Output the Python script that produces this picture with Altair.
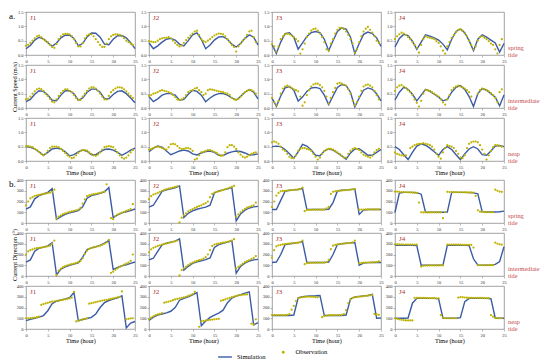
import altair as alt
import pandas as pd

# ---------------- data ----------------
STATIONS = ["J1", "J2", "J3", "J4"]
TIDES = ["spring", "intermediate", "neap"]
X_TICKS = [0, 5, 10, 15, 20, 25]
SPEED_TICKS = [0.0, 0.5, 1.0, 1.5]
DIR_TICKS = [0, 100, 200, 300, 400]
LEGEND_NAMES = ["Simulation", "Observation"]

# Current speed (m/s); simulation hourly t=0..25, observation every 0.5 h from t=0
speed_sim_spring_J1 = [0.22,0.33,0.52,0.62,0.56,0.43,0.30,0.42,0.60,0.69,0.69,0.58,0.33,0.40,0.63,0.77,0.76,0.62,0.38,0.36,0.55,0.67,0.68,0.60,0.43,0.22]
speed_obs_spring_J1 = [0.32,0.35,0.42,0.50,0.58,0.65,0.68,0.62,0.55,0.50,0.45,0.35,0.28,0.25,0.38,0.55,0.65,0.72,0.74,0.74,0.72,0.66,0.55,0.42,0.30,0.30,0.42,0.58,0.68,0.72,0.72,0.65,0.55,0.45,0.35,0.28,0.28,0.40,0.55,0.65,0.70,0.72,0.72,0.70,0.65,0.58,0.50,0.45,0.40,0.35]
speed_sim_spring_J2 = [0.42,0.22,0.32,0.45,0.55,0.58,0.52,0.38,0.32,0.50,0.70,0.77,0.55,0.22,0.35,0.52,0.63,0.64,0.55,0.38,0.28,0.40,0.58,0.70,0.62,0.35]
speed_obs_spring_J2 = [0.48,0.47,0.45,0.45,0.50,0.55,0.58,0.60,0.60,0.62,0.58,0.50,0.42,0.35,0.30,0.33,0.42,0.52,0.60,0.68,0.75,0.82,0.85,0.70,0.55,0.48,0.45,0.50,0.55,0.62,0.68,0.72,0.75,0.74,0.72,0.65,0.55,0.45,0.35,0.28,0.12,0.30,0.40,0.50,0.58,0.70,0.82,0.85,0.62,0.45]
speed_sim_spring_J3 = [0.37,0.05,0.45,0.75,0.78,0.62,0.20,0.42,0.65,0.78,0.82,0.78,0.55,0.15,0.50,0.82,0.95,0.90,0.62,0.05,0.40,0.72,0.80,0.75,0.60,0.30]
speed_obs_spring_J3 = [0.38,0.30,0.12,0.30,0.55,0.65,0.72,0.74,0.72,0.68,0.62,0.55,0.48,0.05,0.20,0.40,0.62,0.75,0.85,0.90,0.92,0.85,0.75,0.62,0.45,0.20,0.15,0.40,0.55,0.75,0.88,0.95,0.95,0.90,0.82,0.70,0.55,0.40,0.08,0.20,0.45,0.65,0.82,0.92,0.98,0.88,0.78,0.65,0.50,0.42]
speed_sim_spring_J4 = [0.28,0.58,0.72,0.68,0.48,0.20,0.45,0.70,0.66,0.60,0.52,0.38,0.18,0.55,0.82,0.90,0.78,0.50,0.15,0.55,0.70,0.62,0.52,0.42,0.10,0.40]
speed_obs_spring_J4 = [0.55,0.65,0.72,0.78,0.75,0.70,0.62,0.55,0.45,0.35,0.25,0.08,0.35,0.55,0.65,0.62,0.60,0.58,0.55,0.48,0.42,0.30,0.15,0.05,0.30,0.45,0.60,0.70,0.80,0.88,0.90,0.85,0.75,0.65,0.50,0.35,0.20,0.30,0.50,0.62,0.65,0.60,0.55,0.48,0.40,0.35,0.20,0.05,0.35,0.55]

speed_sim_inter_J1 = [0.22,0.30,0.48,0.60,0.58,0.45,0.27,0.25,0.45,0.60,0.60,0.50,0.27,0.35,0.55,0.66,0.66,0.55,0.33,0.32,0.47,0.58,0.60,0.50,0.35,0.18]
speed_obs_inter_J1 = [0.30,0.32,0.40,0.50,0.58,0.65,0.68,0.66,0.60,0.50,0.42,0.32,0.22,0.20,0.30,0.42,0.52,0.60,0.65,0.65,0.60,0.55,0.45,0.35,0.28,0.28,0.40,0.50,0.60,0.68,0.72,0.72,0.68,0.60,0.50,0.40,0.30,0.30,0.42,0.55,0.62,0.68,0.72,0.72,0.70,0.65,0.58,0.50,0.42,0.35]
speed_sim_inter_J2 = [0.40,0.22,0.32,0.45,0.50,0.50,0.45,0.27,0.30,0.48,0.62,0.58,0.45,0.22,0.35,0.45,0.50,0.50,0.45,0.35,0.28,0.40,0.55,0.64,0.55,0.32]
speed_obs_inter_J2 = [0.42,0.45,0.50,0.52,0.55,0.60,0.62,0.60,0.58,0.55,0.52,0.45,0.38,0.30,0.28,0.30,0.35,0.45,0.55,0.60,0.62,0.68,0.70,0.62,0.55,0.45,0.50,0.62,0.65,0.64,0.62,0.60,0.58,0.56,0.55,0.52,0.50,0.45,0.35,0.30,0.28,0.32,0.40,0.48,0.55,0.60,0.62,0.62,0.58,0.50]
speed_sim_inter_J3 = [0.35,0.06,0.42,0.70,0.75,0.62,0.24,0.38,0.58,0.70,0.72,0.68,0.45,0.12,0.42,0.72,0.82,0.78,0.55,0.04,0.35,0.62,0.70,0.65,0.50,0.25]
speed_obs_inter_J3 = [0.35,0.20,0.10,0.25,0.50,0.68,0.75,0.78,0.75,0.70,0.65,0.62,0.58,0.40,0.08,0.20,0.45,0.62,0.75,0.82,0.85,0.85,0.80,0.72,0.60,0.40,0.15,0.35,0.55,0.70,0.85,0.88,0.85,0.82,0.78,0.65,0.50,0.25,0.10,0.20,0.40,0.60,0.75,0.80,0.82,0.78,0.72,0.60,0.45,0.30]
speed_sim_inter_J4 = [0.28,0.55,0.72,0.65,0.48,0.25,0.45,0.65,0.58,0.48,0.38,0.25,0.30,0.55,0.72,0.78,0.65,0.40,0.05,0.50,0.68,0.62,0.50,0.38,0.08,0.45]
speed_obs_inter_J4 = [0.60,0.72,0.78,0.80,0.75,0.70,0.62,0.55,0.45,0.30,0.18,0.05,0.25,0.50,0.62,0.62,0.60,0.55,0.50,0.45,0.40,0.30,0.20,0.12,0.30,0.45,0.62,0.70,0.75,0.78,0.75,0.72,0.68,0.62,0.55,0.40,None,None,0.50,0.62,0.68,0.66,0.62,0.58,0.52,0.45,0.35,0.20,0.55,0.65]

speed_sim_neap_J1 = [0.50,0.48,0.42,0.32,0.20,0.30,0.42,0.45,0.42,0.32,0.18,0.22,0.32,0.38,0.34,0.22,0.22,0.32,0.40,0.42,0.38,0.30,0.20,0.28,0.38,0.45]
speed_obs_neap_J1 = [0.52,0.52,0.50,0.48,0.42,0.38,0.32,0.25,0.20,0.25,0.35,0.45,0.50,0.50,0.50,0.48,0.42,0.35,0.28,0.20,0.15,0.10,0.12,0.20,0.28,0.35,0.38,0.38,0.36,0.30,0.25,0.20,0.18,0.22,0.30,0.40,0.48,0.50,0.52,0.50,0.48,0.40,0.30,0.20,0.12,0.08,0.12,0.20,0.30,0.38]
speed_sim_neap_J2 = [0.32,0.45,0.52,0.48,0.35,0.22,0.28,0.35,0.38,0.35,0.25,0.21,0.28,0.33,0.35,0.30,0.20,0.19,0.27,0.32,0.35,0.33,0.28,0.21,0.22,0.25]
speed_obs_neap_J2 = [0.40,0.42,0.45,0.48,0.50,0.48,0.45,0.42,0.40,0.48,0.58,0.60,0.58,0.52,0.45,0.42,0.42,0.45,0.45,0.42,0.35,0.05,0.08,0.20,0.30,0.32,0.35,0.38,0.38,0.35,0.32,0.28,0.22,0.18,0.20,0.30,0.48,0.55,0.55,0.50,0.42,0.30,0.22,0.15,0.12,0.15,0.20,0.25,0.28,0.30]
speed_sim_neap_J3 = [0.50,0.52,0.50,0.40,0.25,0.10,0.32,0.58,0.52,0.38,0.20,0.18,0.35,0.42,0.38,0.28,0.18,0.06,0.28,0.42,0.43,0.32,0.20,0.20,0.30,0.40]
speed_obs_neap_J3 = [0.65,0.68,0.65,0.60,0.50,0.40,0.35,0.25,0.15,0.10,0.10,0.20,0.35,0.42,0.45,0.45,0.42,0.40,0.35,0.25,0.15,0.05,0.12,0.25,0.35,0.40,0.42,0.42,0.40,0.35,0.30,0.25,0.18,0.12,0.12,0.25,0.35,0.42,0.45,0.42,0.38,0.30,0.22,0.18,0.15,0.12,0.18,0.30,0.38,0.42]
speed_sim_neap_J4 = [0.50,0.40,0.22,0.05,0.30,0.52,0.60,0.55,0.45,0.32,0.20,0.40,0.50,0.40,0.22,0.05,0.25,0.42,0.50,0.42,0.22,0.20,0.35,0.52,0.54,0.50]
speed_obs_neap_J4 = [0.30,0.25,0.22,0.20,0.18,0.20,None,0.45,0.50,0.55,0.58,0.60,0.60,0.62,0.60,0.58,0.55,0.50,0.40,0.25,0.15,0.08,0.30,0.45,0.55,0.52,0.50,0.45,0.35,0.25,0.12,0.10,0.20,0.45,0.60,0.65,0.68,0.68,0.65,0.55,0.40,0.25,0.05,0.20,0.35,0.48,0.55,0.55,0.52,0.50]

# Current direction (deg)
dir_sim_spring_J1 = [130,150,225,255,270,285,320,35,60,80,95,105,115,150,230,255,265,275,290,330,50,75,95,105,115,130]
dir_obs_spring_J1 = [165,200,228,240,252,258,262,266,270,274,278,282,290,310,40,60,72,82,90,97,103,108,113,118,125,140,180,220,250,258,263,268,272,276,280,285,292,360,None,45,35,65,78,88,96,104,112,120,128,175]
dir_sim_spring_J2 = [148,165,230,295,308,318,328,345,50,90,112,128,138,148,165,280,298,308,318,330,20,85,120,140,150,155]
dir_obs_spring_J2 = [222,250,265,272,280,290,300,308,315,320,325,330,335,340,5,50,70,90,108,120,130,140,150,158,165,175,185,200,240,270,282,290,295,300,308,315,320,328,335,345,60,80,100,118,132,142,150,158,165,190]
dir_sim_spring_J3 = [125,125,210,295,305,308,312,322,125,125,125,125,125,128,190,298,305,308,310,316,80,120,125,125,125,125]
dir_obs_spring_J3 = [150,200,255,280,295,298,300,302,304,306,308,310,312,315,330,110,122,123,123,124,124,124,124,124,125,135,150,270,290,295,298,300,302,304,306,308,310,313,316,None,125,125,125,126,126,126,126,126,127,127]
dir_sim_spring_J4 = [100,278,285,285,285,282,268,100,100,100,100,100,102,285,285,285,285,283,280,272,105,102,102,103,105,110]
dir_obs_spring_J4 = [292,292,290,288,287,286,285,284,283,282,280,190,100,98,98,98,98,98,99,99,99,99,45,100,290,288,288,287,287,286,286,285,285,285,284,284,283,252,118,105,103,102,101,100,100,100,310,300,292,290]

dir_sim_inter_J1 = [130,150,230,258,268,280,310,10,65,85,100,110,122,175,245,262,272,285,305,330,60,80,95,105,118,130]
dir_obs_inter_J1 = [200,230,240,248,255,260,262,265,268,272,276,282,300,330,10,50,68,82,92,100,105,110,116,122,128,140,165,205,235,252,260,266,271,276,282,290,300,312,335,30,40,58,72,84,95,105,115,125,140,200]
dir_sim_inter_J2 = [150,165,230,290,305,315,325,345,55,90,118,132,142,152,168,265,292,305,315,328,25,90,120,140,150,155]
dir_obs_inter_J2 = [220,248,262,272,280,286,292,298,303,308,313,318,323,330,5,55,72,88,102,115,125,133,140,147,153,162,175,200,240,280,292,298,302,306,310,314,318,324,330,342,70,85,100,115,128,138,148,158,168,185]
dir_sim_inter_J3 = [125,130,200,292,300,305,310,320,125,125,125,125,125,130,200,293,300,305,308,312,100,120,124,125,125,125]
dir_obs_inter_J3 = [170,240,275,285,290,294,297,300,302,304,306,308,310,313,330,110,120,122,123,123,124,124,124,125,125,130,150,250,282,290,294,297,300,302,304,306,308,312,330,None,118,122,124,125,125,126,127,128,130,135]
dir_sim_inter_J4 = [285,285,285,285,285,283,100,100,100,100,100,100,285,285,285,285,285,283,160,102,100,100,100,108,135,272]
dir_obs_inter_J4 = [295,295,294,294,293,293,292,292,292,292,293,None,88,95,97,97,98,98,98,98,98,99,99,None,292,292,292,292,291,291,291,290,290,290,290,289,265,None,100,100,100,100,101,101,101,102,310,300,295,292]

dir_sim_neap_J1 = [78,90,100,110,125,170,235,258,270,280,292,340,75,88,98,108,140,200,245,265,278,290,308,10,55,70]
dir_obs_neap_J1 = [100,100,102,104,106,110,115,225,232,238,244,250,254,258,262,265,268,272,276,280,285,292,345,70,78,84,90,95,100,235,240,245,250,255,260,264,268,272,276,280,284,290,295,300,350,None,90,95,98,100]
dir_sim_neap_J2 = [80,110,130,140,150,165,200,268,285,300,318,338,30,75,108,130,148,175,245,288,305,320,333,345,38,60]
dir_obs_neap_J2 = [90,105,118,128,135,140,148,245,250,255,260,268,275,280,285,290,295,300,308,315,325,345,None,20,72,75,78,82,85,88,90,92,95,262,268,275,282,290,296,302,308,312,315,318,320,322,None,50,40,90]
dir_sim_neap_J3 = [125,125,125,125,125,130,290,300,305,307,309,312,125,125,125,125,125,130,280,298,303,308,312,322,100,102]
dir_obs_neap_J3 = [130,130,130,130,130,130,130,132,138,180,215,260,285,292,296,298,300,300,300,298,296,295,None,110,120,125,128,128,130,130,130,130,132,138,175,240,275,290,295,298,300,302,305,308,310,313,318,140,135,132]
dir_sim_neap_J4 = [100,100,100,102,240,285,285,285,285,285,280,100,100,100,100,105,255,285,285,285,285,285,282,100,100,100]
dir_obs_neap_J4 = [100,95,90,85,82,80,80,80,80,290,290,290,289,289,289,288,288,287,287,286,285,130,105,100,100,100,100,100,100,292,296,296,293,291,290,290,290,290,289,289,289,288,288,287,130,115,102,100,100,100]

SPEED = {
    ("spring", "J1"): (speed_sim_spring_J1, speed_obs_spring_J1),
    ("spring", "J2"): (speed_sim_spring_J2, speed_obs_spring_J2),
    ("spring", "J3"): (speed_sim_spring_J3, speed_obs_spring_J3),
    ("spring", "J4"): (speed_sim_spring_J4, speed_obs_spring_J4),
    ("intermediate", "J1"): (speed_sim_inter_J1, speed_obs_inter_J1),
    ("intermediate", "J2"): (speed_sim_inter_J2, speed_obs_inter_J2),
    ("intermediate", "J3"): (speed_sim_inter_J3, speed_obs_inter_J3),
    ("intermediate", "J4"): (speed_sim_inter_J4, speed_obs_inter_J4),
    ("neap", "J1"): (speed_sim_neap_J1, speed_obs_neap_J1),
    ("neap", "J2"): (speed_sim_neap_J2, speed_obs_neap_J2),
    ("neap", "J3"): (speed_sim_neap_J3, speed_obs_neap_J3),
    ("neap", "J4"): (speed_sim_neap_J4, speed_obs_neap_J4),
}
DIRECTION = {
    ("spring", "J1"): (dir_sim_spring_J1, dir_obs_spring_J1),
    ("spring", "J2"): (dir_sim_spring_J2, dir_obs_spring_J2),
    ("spring", "J3"): (dir_sim_spring_J3, dir_obs_spring_J3),
    ("spring", "J4"): (dir_sim_spring_J4, dir_obs_spring_J4),
    ("intermediate", "J1"): (dir_sim_inter_J1, dir_obs_inter_J1),
    ("intermediate", "J2"): (dir_sim_inter_J2, dir_obs_inter_J2),
    ("intermediate", "J3"): (dir_sim_inter_J3, dir_obs_inter_J3),
    ("intermediate", "J4"): (dir_sim_inter_J4, dir_obs_inter_J4),
    ("neap", "J1"): (dir_sim_neap_J1, dir_obs_neap_J1),
    ("neap", "J2"): (dir_sim_neap_J2, dir_obs_neap_J2),
    ("neap", "J3"): (dir_sim_neap_J3, dir_obs_neap_J3),
    ("neap", "J4"): (dir_sim_neap_J4, dir_obs_neap_J4),
}

# ---------------- style ----------------
SERIF = "Liberation Serif"
BLUE = "#3b5ba5"
YEL = "#bdb300"
JRED = "#a8322d"
TRED = "#c8494b"
W, H = 109, 43

LEG_SIM = alt.Legend(title=None, orient="none", legendX=191, legendY=337, direction="horizontal",
                     symbolType="stroke", symbolSize=190, symbolStrokeWidth=1.4,
                     labelFont=SERIF, labelFontSize=6.5, labelColor="black", labelOffset=4)
LEG_OBS = alt.Legend(title=None, orient="none", legendX=254, legendY=337, direction="horizontal",
                     symbolFillColor=YEL, symbolStrokeColor=YEL, symbolSize=8,
                     labelFont=SERIF, labelFontSize=6.5, labelColor="black", labelOffset=9)

ONE = pd.DataFrame({"k": [0]})


def panel(sim, obs, ydom, yticks, yfmt, ytitle, ti, si, letter):
    df_s = pd.DataFrame({"t": [float(i) for i in range(len(sim))], "v": sim,
                         "kind": [LEGEND_NAMES[0]] * len(sim)})
    df_o = pd.DataFrame({"t": [0.5 * i for i in range(len(obs))], "v": obs,
                         "kind": [LEGEND_NAMES[1]] * len(obs)}).dropna()
    x = alt.X("t:Q", scale=alt.Scale(domain=[0, 25], nice=False, zero=False),
              axis=alt.Axis(values=X_TICKS, format="d", labelFlush=False,
                            minExtent=7, maxExtent=7,
                            title="Time (hour)" if ti == 2 else None))
    y = alt.Y("v:Q", scale=alt.Scale(domain=ydom, nice=False),
              axis=alt.Axis(values=yticks, format=yfmt, minExtent=8, maxExtent=8,
                            title=ytitle if (ti == 1 and si == 0) else None))
    line = alt.Chart(df_s).mark_line(strokeWidth=1.4).encode(
        x=x, y=y,
        color=alt.Color("kind:N", scale=alt.Scale(domain=[LEGEND_NAMES[0]], range=[BLUE]), legend=LEG_SIM))
    pts = alt.Chart(df_o).mark_point(filled=True, size=5, opacity=1, color=YEL).encode(
        x=x, y=y,
        shape=alt.Shape("kind:N", scale=alt.Scale(domain=[LEGEND_NAMES[1]], range=["circle"]), legend=LEG_OBS))
    jlab = alt.Chart(ONE).mark_text(text=STATIONS[si], font=SERIF, fontSize=7, color=JRED,
                                    align="left", baseline="middle").encode(
        x=alt.value(4), y=alt.value(6))
    layers = [line, pts, jlab]
    if si == 3:
        layers.append(alt.Chart(ONE).mark_text(text=[TIDES[ti], "tide"], font=SERIF, fontSize=6.3,
                                               color=TRED, align="left", baseline="top",
                                               lineHeight=7).encode(
            x=alt.value(W + 4), y=alt.value(H - 10.5)))
    if si == 0 and ti == 0:
        layers.append(alt.Chart(ONE).mark_text(text=letter, font=SERIF, fontSize=9, color="black",
                                               align="left", baseline="middle").encode(
            x=alt.value(-17), y=alt.value(4)))
    return alt.layer(*layers).properties(width=W, height=H)


def section(table, ydom, yticks, yfmt, ytitle, letter):
    cells = []
    for ti, tide in enumerate(TIDES):
        for si, st in enumerate(STATIONS):
            sim, obs = table[(tide, st)]
            cells.append(panel(sim, obs, ydom, yticks, yfmt, ytitle, ti, si, letter))
    return alt.concat(*cells, columns=4, spacing={"row": 10, "column": 14}, bounds="flush")


secA = section(SPEED, [0, 1.5], SPEED_TICKS, ".1f", "Current Speed (m/s)", "a.")
secB = section(DIRECTION, [0, 400], DIR_TICKS, "d", "Current Direction (°)", "b.")

chart = alt.vconcat(secA, secB, spacing=0).properties(
    padding=0, background="white"
).configure_view(
    stroke="#8c8c8c", strokeWidth=0.8
).configure_axis(
    labelFont=SERIF, labelFontSize=4.5, labelColor="#333333", labelPadding=1,
    tickSize=2, tickWidth=0.5, tickColor="#777777", domain=False, grid=False,
    titleFont=SERIF, titleFontSize=6.2, titleFontWeight="normal", titleColor="black",
    titlePadding=1
)

chart.save("out.html", embed_options={"renderer": "svg", "actions": False})
